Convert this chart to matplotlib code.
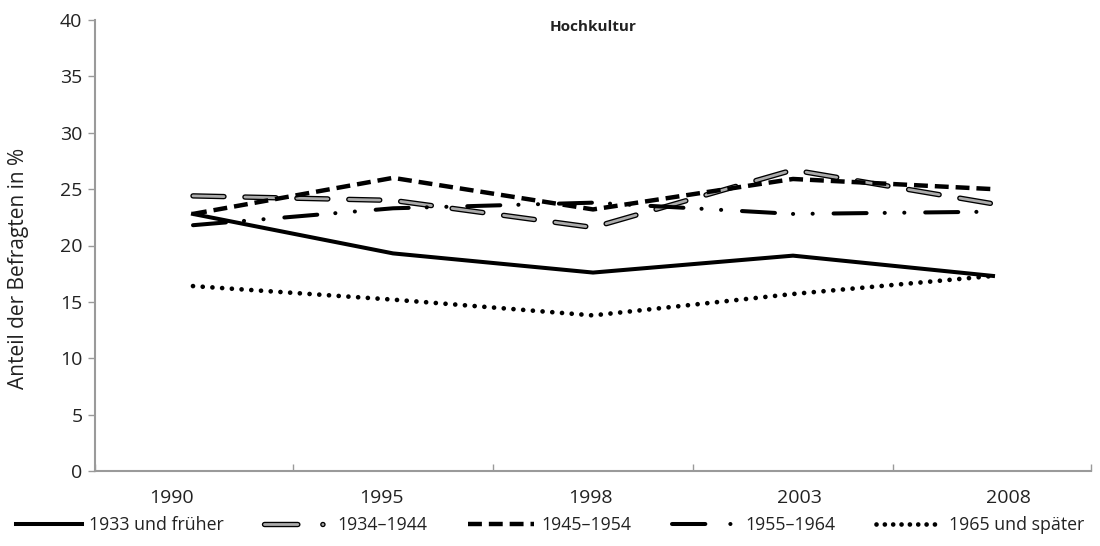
import matplotlib
matplotlib.use("Agg")
import matplotlib.pyplot as plt
import matplotlib.patheffects as pe
from matplotlib.lines import Line2D
import numpy as np

plt.rcParams['font.family'] = ['Open Sans', 'DejaVu Sans']
plt.rcParams['lines.scale_dashes'] = False

years = ["1990", "1995", "1998", "2003", "2008"]
labels = ["1933 und früher", "1934–1944", "1945–1954", "1955–1964", "1965 und später"]
g1933 = [22.8, 19.3, 17.6, 19.1, 17.3]
g1934 = [24.4, 24.0, 21.6, 26.7, 23.7]
g1945 = [22.8, 26.0, 23.2, 25.9, 25.0]
g1955 = [21.8, 23.3, 23.8, 22.8, 23.0]
g1965 = [16.4, 15.2, 13.8, 15.7, 17.3]

txt = '#222222'
axc = '#9a9a9a'

fig = plt.figure(figsize=(11, 5.46), dpi=100)
ax = fig.add_axes([95/1100, 75/546, 996/1100, 451/546])
x = np.arange(len(years))

outline = [pe.Stroke(linewidth=3.9, foreground='black'), pe.Normal()]

ax.plot(x, g1933, color='black', lw=2.9, solid_joinstyle='miter')
ax.plot(x, g1934, color='#ababab', lw=2.0, dashes=(22.3, 15.1),
        dash_capstyle='round', path_effects=outline)
ax.plot(x, g1945, color='black', lw=3.2, dashes=(10, 5))
ax.plot(x, g1955, color='black', lw=2.9, dashes=(23.8, 13, 0.1, 14, 0.1, 15),
        dash_capstyle='round')
ax.plot(x, g1965, color='black', lw=3.4, dashes=(0.01, 7), dash_capstyle='round')

ax.set_xlim(-0.49, 4.49)
ax.set_ylim(0, 40)
ax.set_yticks(range(0, 41, 5))
ax.tick_params(axis='y', length=5, width=1, color=axc, labelsize=14,
               labelcolor=txt, pad=4)

# boundaries between categories carry the tick marks, labels sit on minor ticks
ax.set_xticks([-0.49, 0.5, 1.5, 2.5, 3.5, 4.49])
ax.set_xticklabels([])
ax.tick_params(axis='x', which='major', length=5, width=1, color=axc,
               direction='in')
ax.set_xticks(-0.105 + x * 1.045, minor=True)
ax.set_xticklabels(years, minor=True)
ax.tick_params(axis='x', which='minor', length=0, labelsize=14,
               labelcolor=txt, pad=13)

for s in ['top', 'right']:
    ax.spines[s].set_visible(False)
for s in ['left', 'bottom']:
    ax.spines[s].set_color(axc)
    ax.spines[s].set_linewidth(1.5)

ax.set_ylabel("Anteil der Befragten in %", fontsize=15, color=txt)
ax.yaxis.set_label_coords(-0.066, 0.45)
ax.text(0.5, 1.0, "Hochkultur", transform=ax.transAxes, ha='center', va='top',
        fontsize=11, fontweight='bold', color=txt)

handles = [
    Line2D([], [], color='black', lw=2.9),
    Line2D([], [], color='#ababab', lw=2.0, dashes=(24, 18, 0.1, 100),
           dash_capstyle='round', path_effects=outline),
    Line2D([], [], color='black', lw=3.2, dashes=(10, 5)),
    Line2D([], [], color='black', lw=2.9, dashes=(24, 18, 0.1, 100),
           dash_capstyle='round'),
    Line2D([], [], color='black', lw=3.4, dashes=(0.01, 6), dash_capstyle='round'),
]
fig.legend(handles, labels, loc='center', bbox_to_anchor=(0.5, 21/546), ncol=5,
           frameon=False, fontsize=12.8, handlelength=3.7, handletextpad=0.4,
           columnspacing=2.3, labelcolor=txt)

fig.savefig("out.png", dpi=100, facecolor='white')
